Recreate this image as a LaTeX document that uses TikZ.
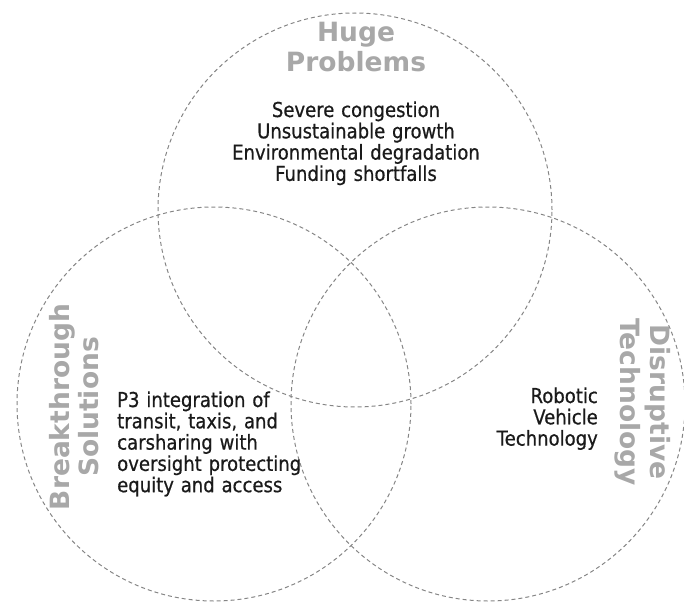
\documentclass[tikz,border=0pt]{standalone}
\usepackage{fontspec}
\setmainfont{DejaVu Sans}
\newfontfamily\labelfamily{DejaVu Sans}
\newfontfamily\bodyfamily[FakeStretch=0.88,FakeBold=0.6]{DejaVu Sans}
\newcommand\mytitlefont{\labelfamily\bfseries\fontsize{26.5}{29.5}\selectfont}
\newcommand\mybodyfont{\bodyfamily\fontsize{20.5}{21.3}\selectfont}
\definecolor{ringgray}{HTML}{858585}
\definecolor{titlegray}{HTML}{A8A8A8}
\definecolor{bodyblack}{HTML}{1A1A1A}
\begin{document}
\begin{tikzpicture}[x=1pt,y=-1pt,
  ring/.style={circle, draw=ringgray, line width=1pt, dash pattern=on 4pt off 3pt, minimum size=394pt, inner sep=0pt},
  title/.style={font=\mytitlefont, text=titlegray, inner sep=0pt, align=center, text width=240pt},
  body/.style={font=\mybodyfont, text=bodyblack, inner sep=0pt, text width=260pt}]
\useasboundingbox (0,0) rectangle (684,604);
\node[ring] (top) at (355,210) {};
\node[ring] (left) at (214,404) {};
\node[ring] (right) at (488,404) {};
% titles
\node[title, anchor=base] (tproblems) at (356,42) {Huge\\Problems};
\node[title, rotate=90, anchor=base] (tsolutions) at (69,407) {Breakthrough\\Solutions};
\node[title, rotate=-90, anchor=base] (ttechnology) at (650,402) {Disruptive\\Technology};
% bodies
\node[body, align=center, anchor=base] (bproblems) at (356,117)
  {Severe congestion\\Unsustainable growth\\Environmental degradation\\Funding shortfalls};
\node[body, align=left, text width=220pt, anchor=base west] (bsolutions) at (117,407)
  {P3 integration of\\transit, taxis, and\\carsharing with\\oversight protecting\\equity and access};
\node[body, align=right, text width=150pt, anchor=base east] (btechnology) at (598,403)
  {Robotic\\Vehicle\\Technology};
\end{tikzpicture}
\end{document}
